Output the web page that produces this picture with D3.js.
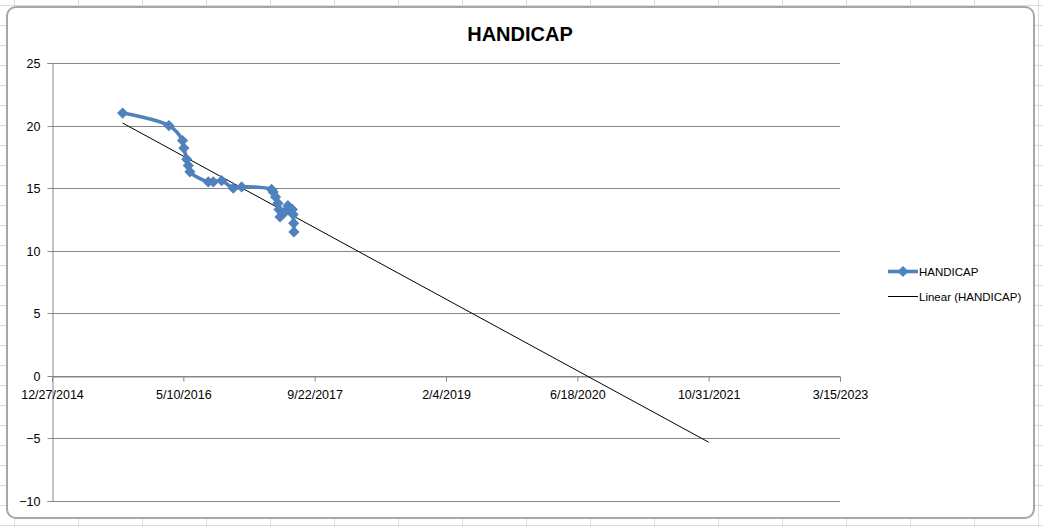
<!DOCTYPE html>
<html>
<head>
<meta charset="utf-8">
<script src="https://cdn.jsdelivr.net/npm/d3@7"></script>
<style>
  body { margin: 0; background: #fff; }
  svg { display: block; font-family: "Liberation Sans", Arial, sans-serif; }
</style>
</head>
<body>
<svg width="1043" height="527"></svg>
<script>
// handicap readings
const dates = ['2015-09-22','2016-03-16','2016-05-07','2016-05-12','2016-05-23','2016-05-29','2016-06-04',
  '2016-08-13','2016-09-01','2016-10-03','2016-11-16','2016-12-18',
  '2017-04-11','2017-04-17','2017-04-26','2017-05-05','2017-05-09','2017-05-13','2017-05-26','2017-06-01',
  '2017-06-12','2017-06-20','2017-06-29','2017-07-02','2017-07-04','2017-07-05'];
const handicap = [21.0,20.0,18.8,18.2,17.3,16.8,16.3,
  15.5,15.5,15.6,15.0,15.1,
  14.9,14.7,14.3,13.8,13.3,12.7,13.0,13.1,
  13.6,13.4,13.3,12.9,12.2,11.5];
// linear trend as drawn (start of data, forecast end)
const trendDates = ['2015-09-22','2021-10-31'];
const trendValues = [20.2,-5.3];
const xTickLabels = ['12/27/2014','5/10/2016','9/22/2017','2/4/2019','6/18/2020','10/31/2021','3/15/2023'];
const yTicks = [-10,-5,0,5,10,15,20,25];

const parse = d3.timeParse('%Y-%m-%d');
const parseLbl = d3.timeParse('%m/%d/%Y');
const fmt = d3.timeFormat('%-m/%-d/%Y');
const data = dates.map((d,i)=>({date: parse(d), v: handicap[i]}));
const trend = trendDates.map((d,i)=>({date: parse(d), v: trendValues[i]}));

const svg = d3.select('svg');

// spreadsheet grid behind the chart
const sheet = svg.append('g').attr('stroke','#dadcdd').attr('stroke-width',1);
d3.range(14, 1043, 64).forEach(x=>sheet.append('line').attr('x1',x+0.5).attr('x2',x+0.5).attr('y1',0).attr('y2',527));
d3.range(5, 527, 20).forEach(y=>sheet.append('line').attr('x1',0).attr('x2',1043).attr('y1',y+0.5).attr('y2',y+0.5));

svg.append('rect')
   .attr('x',7).attr('y',7).attr('width',1027).attr('height',511)
   .attr('rx',9)
   .attr('fill','#fff').attr('stroke','#a6a6a6').attr('stroke-width',2);

const x = d3.scaleTime().domain([parseLbl(xTickLabels[0]), parseLbl(xTickLabels[xTickLabels.length-1])]).range([52,840]);
const y = d3.scaleLinear().domain([-10,25]).range([501,63]);

svg.append('text')
   .attr('x',520).attr('y',41)
   .attr('text-anchor','middle')
   .style('font-size','20px').style('font-weight','bold')
   .text('HANDICAP');

// gridlines
svg.append('g')
   .selectAll('line')
   .data(yTicks)
   .enter()
   .append('line')
   .attr('x1',52).attr('x2',840)
   .attr('y1',d=>Math.round(y(d))+0.5).attr('y2',d=>Math.round(y(d))+0.5)
   .attr('stroke','#868686');

// y axis
const yAxis = svg.append('g')
   .attr('transform','translate(52.5,0)')
   .call(d3.axisLeft(y).tickValues(yTicks).tickSize(5).tickPadding(7).tickFormat(d3.format('d')));
yAxis.select('.domain').attr('stroke','#868686');
yAxis.selectAll('.tick line').attr('stroke','#868686');
yAxis.selectAll('text').style('font-size','12.5px').attr('fill','#000');
yAxis.selectAll('.tick').attr('transform',d=>'translate(0,'+(Math.round(y(d))+0.5)+')');

// x axis at zero
const xAxis = svg.append('g')
   .attr('transform','translate(0,'+(Math.round(y(0))+0.5)+')')
   .call(d3.axisBottom(x).tickValues(xTickLabels.map(parseLbl)).tickSize(5).tickPadding(9).tickFormat(fmt));
xAxis.select('.domain').attr('stroke','#868686');
xAxis.selectAll('.tick line').attr('stroke','#868686');
xAxis.selectAll('text').style('font-size','12.5px').attr('fill','#000');

// linear trend
svg.append('path')
   .datum(trend)
   .attr('d',d3.line().x(d=>x(d.date)).y(d=>y(d.v)))
   .attr('fill','none').attr('stroke','#000').attr('stroke-width',1);

// series
const series = svg.append('g');
series.append('path')
   .datum(data)
   .attr('d',d3.line().x(d=>x(d.date)).y(d=>y(d.v)).curve(d3.curveCatmullRom.alpha(0.5)))
   .attr('fill','none').attr('stroke','#4f81bd').attr('stroke-width',3.6).attr('stroke-linejoin','round');
series.selectAll('path.marker')
   .data(data)
   .enter()
   .append('path')
   .attr('class','marker')
   .attr('d',d3.symbol().type(d3.symbolDiamond2).size(80))
   .attr('transform',d=>'translate('+x(d.date)+','+y(d.v)+')')
   .attr('fill','#4f81bd');

// legend
const legend = svg.append('g').style('font-size','11.5px');
legend.append('line').attr('x1',888).attr('x2',918).attr('y1',271.5).attr('y2',271.5)
      .attr('stroke','#4f81bd').attr('stroke-width',3.6);
legend.append('path').attr('d',d3.symbol().type(d3.symbolDiamond2).size(80))
      .attr('transform','translate(903,271.5)').attr('fill','#4f81bd');
legend.append('text').attr('x',919).attr('y',275.5).text('HANDICAP');
legend.append('line').attr('x1',888).attr('x2',918).attr('y1',296.5).attr('y2',296.5)
      .attr('stroke','#000').attr('stroke-width',1);
legend.append('text').attr('x',919).attr('y',300.5).text('Linear (HANDICAP)');
</script>
</body>
</html>
